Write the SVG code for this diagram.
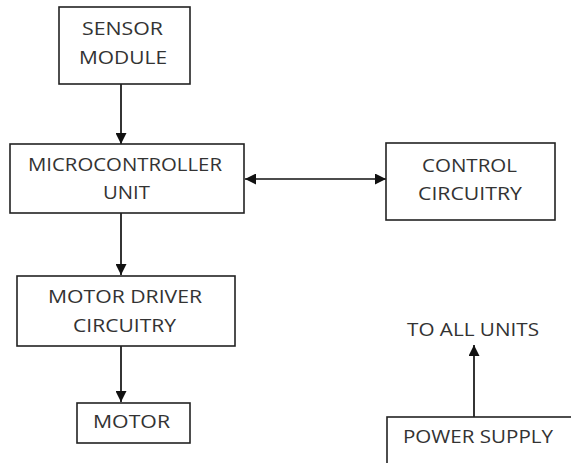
<svg xmlns="http://www.w3.org/2000/svg" width="571" height="463" viewBox="0 0 571 463">
<style>
.box{fill:#fff;stroke:#222;stroke-width:1.6}
.t{font-family:"Open Sans","Liberation Sans",sans-serif;font-size:17.5px;fill:#333;text-anchor:middle}
.c{stroke:#111;stroke-width:1.7;fill:none}
</style>
<defs>
<marker id="ah" viewBox="0 0 11 11" refX="11" refY="5.5" markerWidth="11" markerHeight="11" markerUnits="userSpaceOnUse" orient="auto-start-reverse">
<path d="M0,0 L11,5.5 L0,11 Z" fill="#111"/>
</marker>
</defs>
<rect width="571" height="463" fill="#fff"/>
<g id="connectors">
<line class="c" x1="121" y1="84" x2="121" y2="144" marker-end="url(#ah)"/>
<line class="c" x1="245" y1="179" x2="386" y2="179" marker-start="url(#ah)" marker-end="url(#ah)"/>
<line class="c" x1="121" y1="213" x2="121" y2="275" marker-end="url(#ah)"/>
<line class="c" x1="121" y1="346" x2="121" y2="402" marker-end="url(#ah)"/>
<line class="c" x1="474" y1="417" x2="474" y2="345" marker-end="url(#ah)"/>
</g>
<g id="sensor">
<rect class="box" x="59" y="7" width="131" height="77"/>
<text class="t" x="122.5" y="35" textLength="81" lengthAdjust="spacingAndGlyphs">SENSOR</text>
<text class="t" x="123" y="63.5" textLength="88" lengthAdjust="spacingAndGlyphs">MODULE</text>
</g>
<g id="mcu">
<rect class="box" x="10" y="144" width="234" height="69"/>
<text class="t" x="125" y="170.5" textLength="194" lengthAdjust="spacingAndGlyphs">MICROCONTROLLER</text>
<text class="t" x="126.5" y="199" textLength="47" lengthAdjust="spacingAndGlyphs">UNIT</text>
</g>
<g id="control">
<rect class="box" x="386" y="143" width="169" height="77"/>
<text class="t" x="469.5" y="172" textLength="95" lengthAdjust="spacingAndGlyphs">CONTROL</text>
<text class="t" x="470" y="200" textLength="104" lengthAdjust="spacingAndGlyphs">CIRCUITRY</text>
</g>
<g id="driver">
<rect class="box" x="17" y="276" width="218" height="70"/>
<text class="t" x="125" y="303" textLength="154" lengthAdjust="spacingAndGlyphs">MOTOR DRIVER</text>
<text class="t" x="124.5" y="332" textLength="103" lengthAdjust="spacingAndGlyphs">CIRCUITRY</text>
</g>
<g id="motor">
<rect class="box" x="77" y="403" width="113" height="40"/>
<text class="t" x="131.5" y="428" textLength="77" lengthAdjust="spacingAndGlyphs">MOTOR</text>
</g>
<g id="label">
<text class="t" x="473" y="336" textLength="132" lengthAdjust="spacingAndGlyphs">TO ALL UNITS</text>
</g>
<g id="power">
<rect class="box" x="387" y="417" width="200" height="60"/>
<text class="t" x="478" y="443" textLength="150" lengthAdjust="spacingAndGlyphs">POWER SUPPLY</text>
</g>
</svg>
